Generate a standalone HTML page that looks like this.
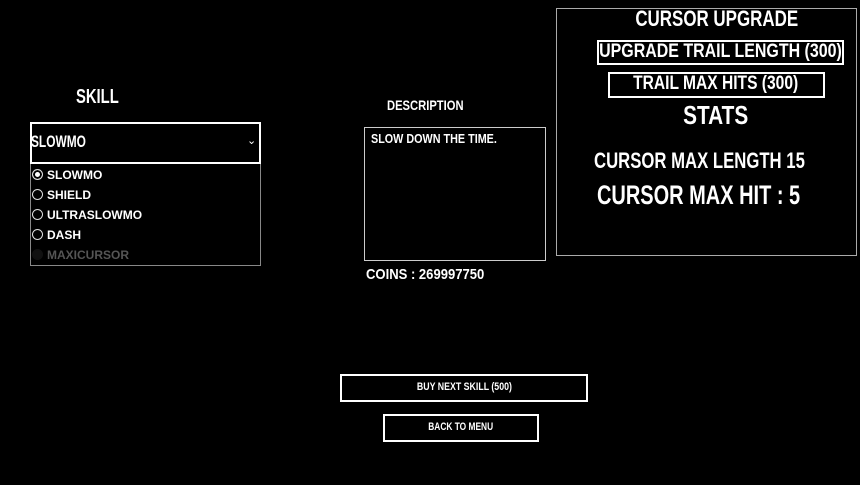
<!DOCTYPE html>
<html><head><style>
body{margin:0;width:860px;height:485px;background:#000;overflow:hidden;position:relative;font-family:"Liberation Sans",sans-serif;color:#fff}
.a{position:absolute;white-space:nowrap}
.f{font-weight:bold}
.f span{display:inline-block;transform-origin:left center}
.c span{transform-origin:center center}
.b{position:absolute;box-sizing:border-box}
.opt{position:absolute;left:2px;font-weight:bold;font-size:12px}
.r{display:inline-block;width:9px;height:9px;border:1px solid #ddd;border-radius:50%;vertical-align:-1px;margin-right:4px}
</style></head><body>
<div class="b" style="left:556px;top:8px;width:301px;height:248px;border:1px solid #aaa"></div>
<div class="a f c" style="left:556px;width:322px;text-align:center;top:6px;font-size:22px"><span style="transform:scaleX(.77)">CURSOR UPGRADE</span></div>
<div class="b" style="left:597px;top:40px;width:247px;height:25px;border:2px solid #fff"></div>
<div class="a f c" style="left:520px;width:400px;text-align:center;top:41px;font-size:19px"><span style="transform:scaleX(.84)">UPGRADE TRAIL LENGTH (300)</span></div>
<div class="b" style="left:608px;top:72px;width:217px;height:26px;border:2px solid #fff"></div>
<div class="a f c" style="left:566px;width:300px;text-align:center;top:73px;font-size:19px"><span style="transform:scaleX(.82)">TRAIL MAX HITS (300)</span></div>
<div class="a f c" style="left:556px;width:320px;text-align:center;top:100px;font-size:26px"><span style="transform:scaleX(.8)">STATS</span></div>
<div class="a f" style="left:594px;top:148px;font-size:22px"><span style="transform:scaleX(.76)">CURSOR MAX LENGTH 15</span></div>
<div class="a f" style="left:597px;top:180px;font-size:27px"><span style="transform:scaleX(.74)">CURSOR MAX HIT : 5</span></div>

<div class="a f" style="left:76px;top:86px;font-size:20px"><span style="transform:scaleX(.74)">SKILL</span></div>
<div class="b" style="left:30px;top:122px;width:231px;height:42px;border:2px solid #fff"></div>
<div class="a f" style="left:31px;top:132px;font-size:17px"><span style="transform:scaleX(.7)">SLOWMO</span></div>
<div class="a" style="left:247px;top:134px;font-size:11px;font-family:'DejaVu Sans'">&#8964;</div>
<div class="b" style="left:30px;top:164px;width:231px;height:102px;border:1px solid #888;border-top:none"></div>
<div class="a" style="left:30px;top:167px;width:231px;height:100px">
<div class="opt" style="top:1px"><span class="r" style="background:#fff;box-shadow:inset 0 0 0 2px #000"></span>SLOWMO</div>
<div class="opt" style="top:21px"><span class="r"></span>SHIELD</div>
<div class="opt" style="top:41px"><span class="r"></span>ULTRASLOWMO</div>
<div class="opt" style="top:61px"><span class="r"></span>DASH</div>
<div class="opt" style="top:81px;color:#555"><span class="r" style="border-color:#111;background:#111"></span>MAXICURSOR</div>
</div>

<div class="a f" style="left:387px;top:97px;font-size:14px"><span style="transform:scaleX(.8)">DESCRIPTION</span></div>
<div class="b" style="left:364px;top:127px;width:182px;height:134px;border:1px solid #ccc"></div>
<div class="a f" style="left:371px;top:131px;font-size:13px"><span style="transform:scaleX(.83)">SLOW DOWN THE TIME.</span></div>
<div class="a f" style="left:366px;top:266px;font-size:15px"><span style="transform:scaleX(.87)">COINS : 269997750</span></div>

<div class="b" style="left:340px;top:374px;width:248px;height:28px;border:2px solid #fff"></div>
<div class="a f c" style="left:340px;width:248px;text-align:center;top:381px;font-size:11px"><span style="transform:scaleX(.8)">BUY NEXT SKILL (500)</span></div>
<div class="b" style="left:383px;top:414px;width:156px;height:28px;border:2px solid #fff"></div>
<div class="a f c" style="left:383px;width:156px;text-align:center;top:421px;font-size:11px"><span style="transform:scaleX(.76)">BACK TO MENU</span></div>
</body></html>
